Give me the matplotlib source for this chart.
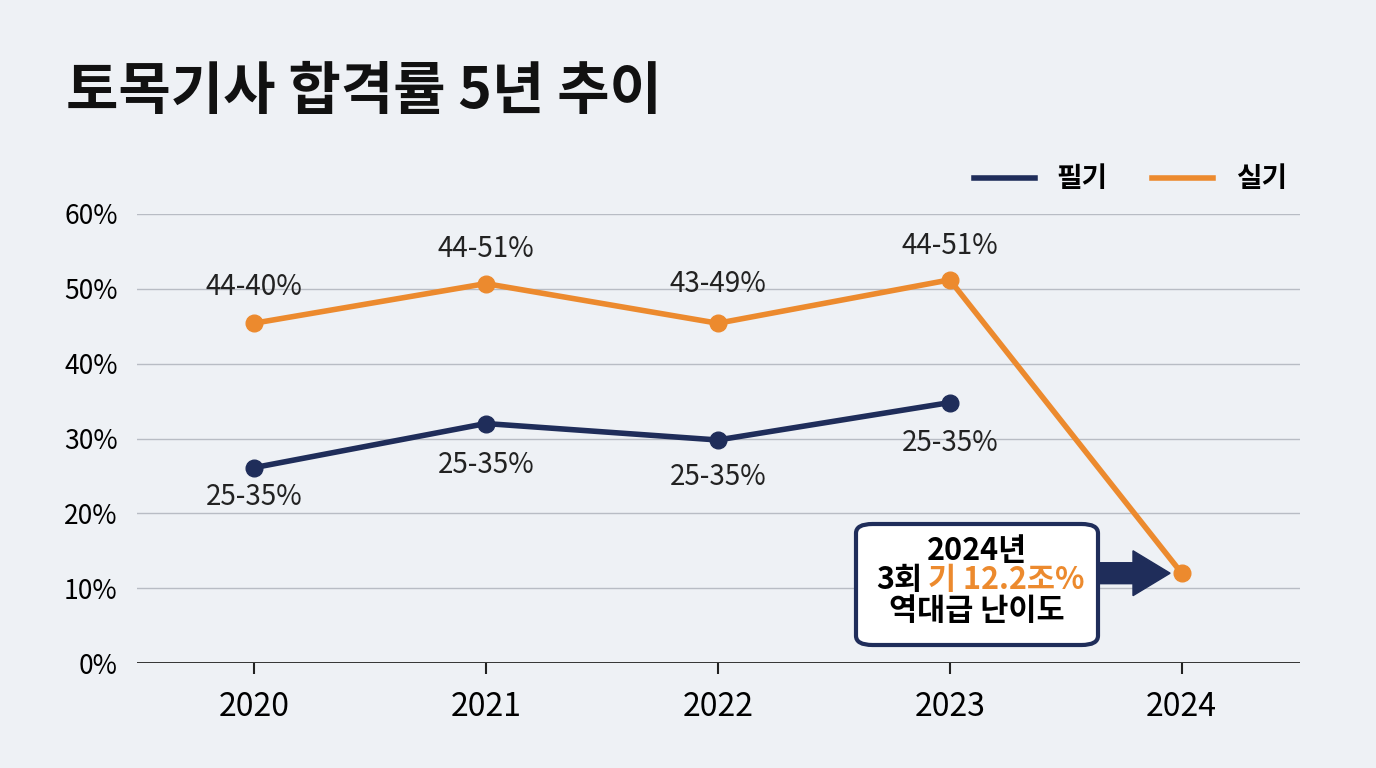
import matplotlib.pyplot as plt
from matplotlib.patches import FancyBboxPatch, FancyArrow

plt.rcParams['font.family'] = ['Noto Sans CJK KR', 'DejaVu Sans']

years = [2020, 2021, 2022, 2023, 2024]
pilgi_years = [2020, 2021, 2022, 2023]
pilgi = [26.1, 32.0, 29.8, 34.8]
silgi = [45.4, 50.7, 45.4, 51.2, 12.0]
silgi_labels = ["44-40%", "44-51%", "43-49%", "44-51%"]
silgi_label_y = [50.3, 55.3, 50.6, 55.7]
pilgi_labels = ["25-35%", "25-35%", "25-35%", "25-35%"]
pilgi_label_y = [22.2, 26.5, 24.9, 29.4]

NAVY = "#1f2d5a"
ORANGE = "#ec8a2e"
BG = "#eef1f5"

fig = plt.figure(figsize=(13.76, 7.68), dpi=100, facecolor=BG)
ax = fig.add_axes([137 / 1376, 1 - 663 / 768, (1300 - 137) / 1376, (663 - 214) / 768])
ax.set_facecolor(BG)
ax.set_xlim(2019.496, 2024.51)
ax.set_ylim(0, 60)

for v in range(10, 70, 10):
    ax.axhline(v, color="#b8bcc4", lw=1, zorder=0)
ax.axhline(0, color="#222222", lw=2, zorder=1)
for s in ax.spines.values():
    s.set_visible(False)

ax.plot(pilgi_years, pilgi, color=NAVY, lw=4, marker="o", ms=12, zorder=3, label="필기")
ax.plot(years, silgi, color=ORANGE, lw=4, marker="o", ms=12, zorder=3, label="실기")

for x, y, t in zip(pilgi_years, silgi_label_y, silgi_labels):
    ax.text(x, y, t, ha="center", va="center", fontsize=20, color="#222222")
for x, y, t in zip(pilgi_years, pilgi_label_y, pilgi_labels):
    ax.text(x, y, t, ha="center", va="center", fontsize=20, color="#222222")

ax.set_xticks(years)
ax.set_xticklabels([str(y) for y in years], fontsize=23)
ax.tick_params(axis="x", length=8, width=1.5, color="#222222", pad=12)
ax.set_yticks(range(0, 70, 10))
ax.set_yticklabels([f"{v}%" for v in range(0, 70, 10)], fontsize=19)
ax.tick_params(axis="y", length=0, pad=14)

leg = ax.legend(loc="lower right", bbox_to_anchor=(1.01, 0.99), ncol=2, frameon=False,
                handlelength=2.2, columnspacing=1.6, handletextpad=0.8,
                prop={'weight': 'bold', 'size': 20})
for h in leg.get_lines():
    h.set_marker("")
    h.set_linewidth(4)

# annotation box with arrow
ax.add_patch(FancyArrow(2023.62, 12.0, 0.17, 0, width=2.8, head_width=6.0, head_length=0.16,
                        color=NAVY, zorder=4, length_includes_head=False))
box = FancyBboxPatch((856 / 1376, 1 - 645 / 768), (1098 - 856) / 1376, (645 - 524) / 768,
                     boxstyle="round,pad=0,rounding_size=0.012", transform=fig.transFigure,
                     facecolor="white", edgecolor=NAVY, lw=3, zorder=5)
fig.patches.append(box)
cx = 977 / 1376
fig.text(cx, 1 - 551 / 768, "2024년", ha="center", va="center", fontsize=22, weight="bold", zorder=6)
fig.text(922 / 1376, 1 - 580 / 768, "3회", ha="right", va="center", fontsize=22, weight="bold", zorder=6)
fig.text(928 / 1376, 1 - 580 / 768, "기 12.2조%", ha="left", va="center", fontsize=22,
         weight="bold", color=ORANGE, zorder=6)
fig.text(cx, 1 - 611 / 768, "역대급 난이도", ha="center", va="center", fontsize=22, weight="bold", zorder=6)

fig.text(66 / 1376, 1 - 92 / 768, "토목기사 합격률 5년 추이", ha="left", va="center",
         fontsize=41, weight="bold", color="#111111")

fig.savefig("out.png", dpi=100, facecolor=BG)
